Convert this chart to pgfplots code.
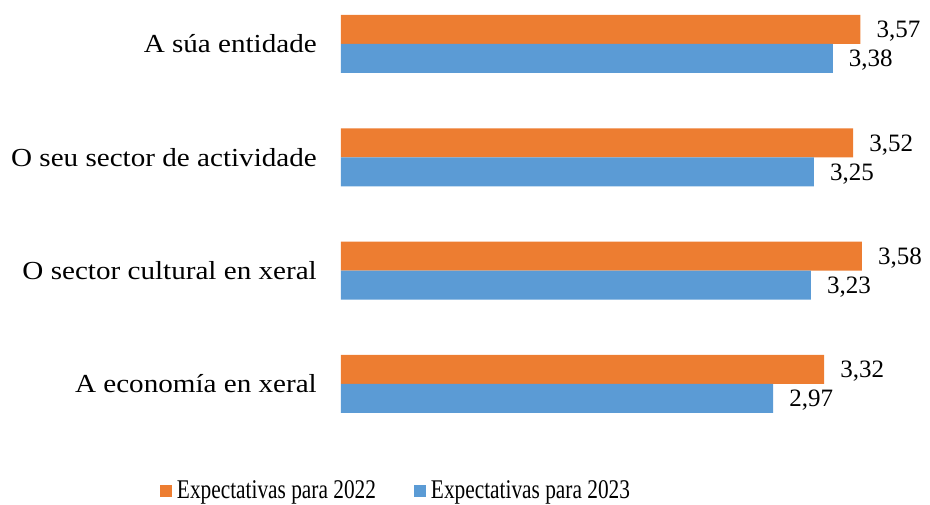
\documentclass[border=0pt]{standalone}
\usepackage{fontspec}
\setmainfont{Liberation Serif}
\newfontfamily\labfont{Liberation Serif}[FakeStretch=1.12]
\newfontfamily\legfont{Liberation Serif}[FakeStretch=0.79]
\usepackage{pgfplots}
\pgfplotsset{compat=1.18}
\definecolor{corange}{HTML}{ED7D31}
\definecolor{cblue}{HTML}{5B9BD5}
\begin{document}
\begin{tikzpicture}
\useasboundingbox (-341pt,-63pt) rectangle (589pt,441pt);
\begin{axis}[
  at={(0,0)}, anchor=south west,
  scale only axis, width=582pt, height=441pt,
  xbar, bar width=29pt,
  xmin=0, xmax=4.0,
  ymin=-0.503, ymax=3.388,
  axis line style={draw=none},
  xtick=\empty,
  ytick={0,1,2,3},
  yticklabels={A economía en xeral, O sector cultural en xeral, O seu sector de actividade, A súa entidade},
  major tick length=0pt,
  yticklabel style={anchor=east, inner sep=0pt, xshift=-24pt, font=\fontsize{26}{30}\selectfont\labfont},
  nodes near coords,
  nodes near coords style={anchor=west, inner sep=0pt, xshift=16pt, yshift=-2pt, font=\fontsize{25}{28}\selectfont,
    /pgf/number format/.cd, fixed, fixed zerofill, precision=2, use comma, assume math mode=true},
  legend style={at={(0.0945,-0.111)}, anchor=center, draw=none, legend columns=2,
    font=\fontsize{27}{30}\selectfont\legfont, inner sep=0pt,
    /tikz/every even column/.append style={column sep=36pt}},
  legend image code/.code={\fill[#1] (0pt,-7pt) rectangle (12pt,5pt);},
  legend cell align=left,
]
\addplot[fill=corange, draw=none, bar shift=14.5pt] coordinates {(3.32,0) (3.58,1) (3.52,2) (3.57,3)};
\addplot[fill=cblue, draw=none, bar shift=-14.5pt] coordinates {(2.97,0) (3.23,1) (3.25,2) (3.38,3)};
\legend{\hspace{3pt}Expectativas para 2022, \hspace{3pt}Expectativas para 2023}
\end{axis}
\end{tikzpicture}
\end{document}
